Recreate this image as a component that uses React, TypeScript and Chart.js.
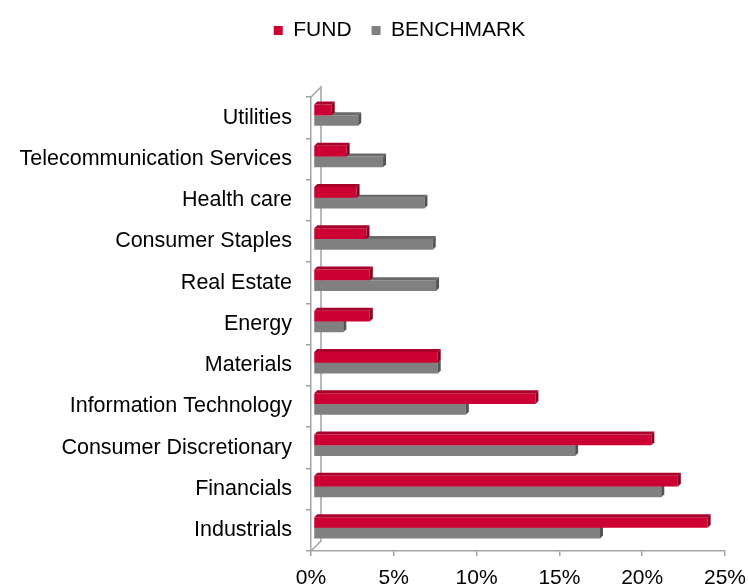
import { useEffect, useRef } from 'react';
import { Chart, registerables } from 'chart.js';

Chart.register(...registerables);

const categories = [
  'Utilities',
  'Telecommunication Services',
  'Health care',
  'Consumer Staples',
  'Real Estate',
  'Energy',
  'Materials',
  'Information Technology',
  'Consumer Discretionary',
  'Financials',
  'Industrials',
];
const fundValues = [1.1, 2.0, 2.6, 3.2, 3.4, 3.4, 7.5, 13.4, 20.4, 22.0, 23.8];
const benchmarkValues = [2.7, 4.2, 6.7, 7.2, 7.4, 1.8, 7.5, 9.2, 15.8, 21.0, 17.3];
const seriesNames = ['FUND', 'BENCHMARK'];
const xTickMin = 0;
const xTickMax = 25;
const xTickStep = 5;

const FONT_FAMILY = "'Liberation Sans', Arial, Helvetica, sans-serif";
const FONT_SIZE = 21;
const AXIS_COLOR = '#a3a3a3';
const RED = '#cc0033';
const GRAY = '#808080';

export default function App() {
  const ref = useRef<HTMLCanvasElement>(null);

  useEffect(() => {
    if (!ref.current) return;
    const depth = 3;
    const faceColors: Record<number, { top: string; side: string }> = {
      0: { top: '#a8002a', side: '#860020' },
      1: { top: '#6a6a6a', side: '#545454' },
    };

    const bar3d = {
      id: 'bar3d',
      afterDatasetDraw(chart: any, args: any) {
        const ctx = chart.ctx;
        const c = faceColors[args.index];
        if (!c) return;
        args.meta.data.forEach((el: any) => {
          const { x, y, base, height } = el.getProps(['x', 'y', 'base', 'height'], true);
          const top = y - height / 2;
          const bottom = y + height / 2;
          ctx.save();
          ctx.fillStyle = c.top;
          ctx.beginPath();
          ctx.moveTo(base, top);
          ctx.lineTo(x, top);
          ctx.lineTo(x + depth, top - depth);
          ctx.lineTo(base + depth, top - depth);
          ctx.closePath();
          ctx.fill();
          ctx.fillStyle = c.side;
          ctx.beginPath();
          ctx.moveTo(x, top);
          ctx.lineTo(x + depth, top - depth);
          ctx.lineTo(x + depth, bottom - depth);
          ctx.lineTo(x, bottom);
          ctx.closePath();
          ctx.fill();
          ctx.restore();
        });
      },
    };

    const wall = {
      id: 'wall',
      beforeDatasetsDraw(chart: any) {
        const { left, top, bottom } = chart.chartArea;
        const w = 10;
        const ctx = chart.ctx;
        ctx.save();
        ctx.strokeStyle = AXIS_COLOR;
        ctx.lineWidth = 1.5;
        ctx.beginPath();
        ctx.moveTo(left, top);
        ctx.lineTo(left + w, top - w);
        ctx.lineTo(left + w, bottom - w);
        ctx.lineTo(left, bottom);
        ctx.stroke();
        ctx.restore();
        // bars sit slightly behind the front plane
        ctx.save();
        ctx.translate(2.5, -2.5);
      },
      afterDatasetsDraw(chart: any) {
        chart.ctx.restore();
      },
    };

    const legendLayout = {
      id: 'legendLayout',
      beforeInit(chart: any) {
        const legend = chart.legend;
        if (!legend || legend._patched) return;
        const fit = legend.fit;
        legend.fit = function () {
          fit.call(this);
          this.height = 97;
        };
        legend._patched = true;
      },
      afterLayout(chart: any) {
        const legend = chart.legend;
        if (!legend) return;
        legend.left += 37;
        legend.right += 37;
      },
    };

    const chart = new Chart(ref.current, {
      type: 'bar',
      data: {
        labels: categories,
        datasets: [
          {
            label: seriesNames[0],
            data: fundValues,
            backgroundColor: RED,
            borderWidth: 0,
            categoryPercentage: 0.52,
            barPercentage: 1,
          },
          {
            label: seriesNames[1],
            data: benchmarkValues,
            backgroundColor: GRAY,
            borderWidth: 0,
            categoryPercentage: 0.52,
            barPercentage: 1,
          },
        ],
      },
      options: {
        indexAxis: 'y',
        responsive: false,
        animation: false,
        layout: { padding: { left: 0, right: 23, top: 0, bottom: 0 } },
        plugins: {
          tooltip: { enabled: false },
          legend: {
            position: 'top',
            labels: {
              boxWidth: 9,
              boxHeight: 9,
              padding: 20,
              color: '#000',
              font: { family: FONT_FAMILY, size: FONT_SIZE },
            },
          },
        },
        scales: {
          x: {
            min: xTickMin,
            max: xTickMax,
            ticks: {
              stepSize: xTickStep,
              callback: (v: any) => `${v}%`,
              color: '#000',
              font: { family: FONT_FAMILY, size: FONT_SIZE },
              padding: 10,
              maxRotation: 0,
            },
            grid: {
              display: true,
              drawOnChartArea: false,
              drawTicks: true,
              tickLength: 5,
              color: AXIS_COLOR,
              lineWidth: 1.5,
            },
            border: { display: true, color: AXIS_COLOR, width: 1.5 },
            afterFit(s: any) {
              s.height = 37;
              s.paddingLeft = 0;
              s.paddingRight = 0;
            },
          },
          y: {
            ticks: {
              color: '#000',
              font: { family: FONT_FAMILY, size: 21.5 },
              padding: 14,
              autoSkip: false,
            },
            grid: {
              display: true,
              drawOnChartArea: false,
              drawTicks: true,
              tickLength: 5,
              color: AXIS_COLOR,
              lineWidth: 1.5,
            },
            border: { display: true, color: AXIS_COLOR, width: 1.5 },
            afterFit(s: any) {
              s.width = 311;
              s.paddingTop = 0;
              s.paddingBottom = 0;
            },
          },
        },
      },
      plugins: [legendLayout, wall, bar3d],
    } as any);

    return () => chart.destroy();
  }, []);

  return (
    <div style={{ position: 'absolute', left: 0, top: 0, width: 748, height: 588 }}>
      <canvas ref={ref} width={748} height={588} />
    </div>
  );
}
